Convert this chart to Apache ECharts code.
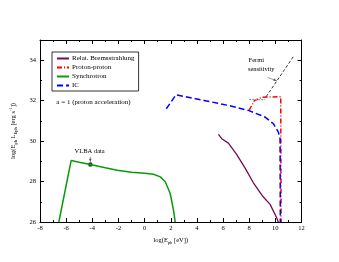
<!DOCTYPE html>
<html><head><meta charset="utf-8">
<script src="https://cdn.jsdelivr.net/npm/echarts@6/dist/echarts.min.js"></script>
<style>html,body{margin:0;padding:0;background:#fff}#c{width:339px;height:262px}</style>
</head><body><div id="c"></div>
<script>
var synchrotron = [[-6.56,26.0],[-5.62,29.04],[-5.0,28.95],[-4.15,28.84],[-3.0,28.68],[-2.1,28.56],[-1.0,28.46],[0,28.41],[0.69,28.36],[1.2,28.23],[1.58,27.99],[1.96,27.41],[2.21,26.59],[2.34,26.0]];
var ic = [[1.66,31.6],[2.4,32.29],[4.63,32.0],[6.3,31.78],[7.94,31.52],[9.21,31.19],[9.85,30.86],[10.23,30.45],[10.36,30.12],[10.38,26.0]];
var protonProton = [[7.99,31.52],[8.4,32.0],[8.96,32.17],[10.41,32.2],[10.44,26.0]];
var bremsstrahlung = [[5.65,30.33],[5.75,30.28],[5.9,30.12],[6.41,29.9],[7.05,29.33],[7.7,28.65],[8.32,27.94],[9.0,27.3],[9.6,26.87],[10.1,26.21],[10.23,26.0]];
var fermiGray = [[8.0,32.05],[9.2,32.05]];
var fermiLine = [[9.3,32.2],[11.4,34.2]];
var vlbaPoint = [[-4.15,28.84]];
var vlbaArrow = [[-4.15,29.22],[-4.15,28.98]];
var fermiArrow = [[9.4,33.15],[10.1,32.98]];
var seriesNames = ['Relat. Bremsstrahlung','Proton-proton','Synchrotron','IC'];
var xTicks = [-8,-6,-4,-2,0,2,4,6,8,10,12];
var yTicks = [26,28,30,32,34];

var F = 'Liberation Serif, Times New Roman, serif';
var chart = echarts.init(document.getElementById('c'), null, {renderer:'canvas'});
var axLine = {show:true, onZero:false, lineStyle:{color:'#000', width:1}};
function xAx(pos, labels){
  return {type:'value', position:pos, min:-8, max:12, interval:2,
    axisLine:axLine, axisTick:{show:true, inside:true, length:4, lineStyle:{color:'#000'}},
    minorTick:{show:true, splitNumber:2, length:2, lineStyle:{color:'#000'}},
    splitLine:{show:false},
    axisLabel:{show:labels, fontFamily:F, fontSize:6.5, color:'#000', margin:3},
    name: labels ? '{n|log(E}{s|ph}{n| [eV])}' : '', nameLocation:'middle', nameGap:9,
    nameTextStyle:{fontFamily:F, rich:{n:{fontFamily:F,fontSize:6.5,color:'#000',lineHeight:10,verticalAlign:'middle'}, s:{fontFamily:F,fontSize:4.5,color:'#000',lineHeight:10,verticalAlign:'bottom'}}}
  };
}
function yAx(pos, major, labels){
  return {type:'value', position:pos, min:26, max:35, interval: major?2:1,
    axisLine: major ? axLine : {show:false, onZero:false},
    axisTick:{show:true, inside:true, length: major?4:2, lineStyle:{color:'#000'}},
    splitLine:{show:false},
    axisLabel:{show:labels, fontFamily:F, fontSize:6.5, color:'#000', margin:4, showMaxLabel:false},
    name: labels ? '{n|log(E}{s|ph}{n| L}{s|Eph}{n| [erg s}{p|-1}{n|])}' : '',
    nameLocation:'middle', nameGap:16, nameRotate:90,
    nameTextStyle:{fontFamily:F, rich:{n:{fontFamily:F,fontSize:6.5,color:'#000',lineHeight:10,verticalAlign:'middle'}, s:{fontFamily:F,fontSize:4.5,color:'#000',lineHeight:10,verticalAlign:'bottom'}, p:{fontFamily:F,fontSize:4.5,color:'#000',lineHeight:10,verticalAlign:'top'}}}
  };
}
var option = {
  animation:false,
  backgroundColor:'#fff',
  grid:{left:40, top:40, right:37.5, bottom:40},
  xAxis:[xAx('bottom', true), xAx('top', false)],
  yAxis:[yAx('left', true, true), yAx('left', false, false), yAx('right', true, false), yAx('right', false, false)],
  legend:{
    data:seriesNames, orient:'vertical', left:52, top:52,
    borderColor:'#000', borderWidth:0.8, borderRadius:0, padding:[3,4,2,4],
    itemWidth:12, itemHeight:7, itemGap:2,
    itemStyle:{opacity:0},
    textStyle:{fontFamily:F, fontSize:7, color:'#000', padding:[0,0,0,-2]}
  },
  series:[
    {name:seriesNames[0], type:'line', data:bremsstrahlung, symbol:'none', lineStyle:{color:'#701050', width:1.3}, itemStyle:{color:'#701050'}},
    {name:seriesNames[1], type:'line', data:protonProton, symbol:'none', lineStyle:{color:'#ff0000', width:1.5, type:[5,2,1,2]}, itemStyle:{color:'#ff0000'}},
    {name:seriesNames[2], type:'line', data:synchrotron, symbol:'none', lineStyle:{color:'#0a990a', width:1.5}, itemStyle:{color:'#0a990a'}},
    {name:seriesNames[3], type:'line', data:ic, symbol:'none', lineStyle:{color:'#0000ff', width:1.5, type:[6,3]}, itemStyle:{color:'#0000ff'}},
    {type:'line', data:fermiGray, symbol:'none', lineStyle:{color:'#999', width:1.2, type:[2,1]}, silent:true},
    {type:'line', data:fermiLine, symbol:'none', lineStyle:{color:'#000', width:0.8, type:[3,2]}, silent:true},
    {type:'scatter', data:vlbaPoint, symbol:'circle', symbolSize:4.5, itemStyle:{color:'#000'}, silent:true},
    {type:'line', data:vlbaArrow, symbol:'none', lineStyle:{color:'#555', width:0.6}, silent:true},
    {type:'line', data:fermiArrow, symbol:'none', lineStyle:{color:'#555', width:0.6}, silent:true}
  ]
};
chart.setOption(option);

function px(p){ return chart.convertToPixel({xAxisIndex:0, yAxisIndex:0}, p); }
function arrowHead(from, to){
  var a = px(from), b = px(to);
  var ang = Math.atan2(b[1]-a[1], b[0]-a[0]);
  var L = 3, w = 1.3;
  var p1 = [b[0]-L*Math.cos(ang)+w*Math.sin(ang), b[1]-L*Math.sin(ang)-w*Math.cos(ang)];
  var p2 = [b[0]-L*Math.cos(ang)-w*Math.sin(ang), b[1]-L*Math.sin(ang)+w*Math.cos(ang)];
  return {type:'polygon', shape:{points:[b,p1,p2]}, style:{fill:'#555'}, silent:true};
}
var tA = px([-6.75, 31.95]);
var tV = px([-4.2, 29.5]);
var tF1 = px([7.95, 33.98]);
var tF2 = px([7.9, 33.54]);
chart.setOption({graphic:[
  {type:'text', x:tA[0], y:tA[1], style:{text:'a = 1 (proton acceleration)', font:'7px '+F, fill:'#000', textVerticalAlign:'middle'}},
  {type:'text', x:tV[0], y:tV[1], style:{text:'VLBA data', font:'6.5px '+F, fill:'#000', textAlign:'center', textVerticalAlign:'middle'}},
  {type:'text', x:tF1[0], y:tF1[1], style:{text:'Fermi', font:'6.5px '+F, fill:'#000', textAlign:'left', textVerticalAlign:'middle'}},
  {type:'text', x:tF2[0], y:tF2[1], style:{text:'sensitivity', font:'6.5px '+F, fill:'#000', textAlign:'left', textVerticalAlign:'middle'}},
  arrowHead(vlbaArrow[0], vlbaArrow[1]),
  arrowHead(fermiArrow[0], fermiArrow[1])
]});
</script></body></html>
